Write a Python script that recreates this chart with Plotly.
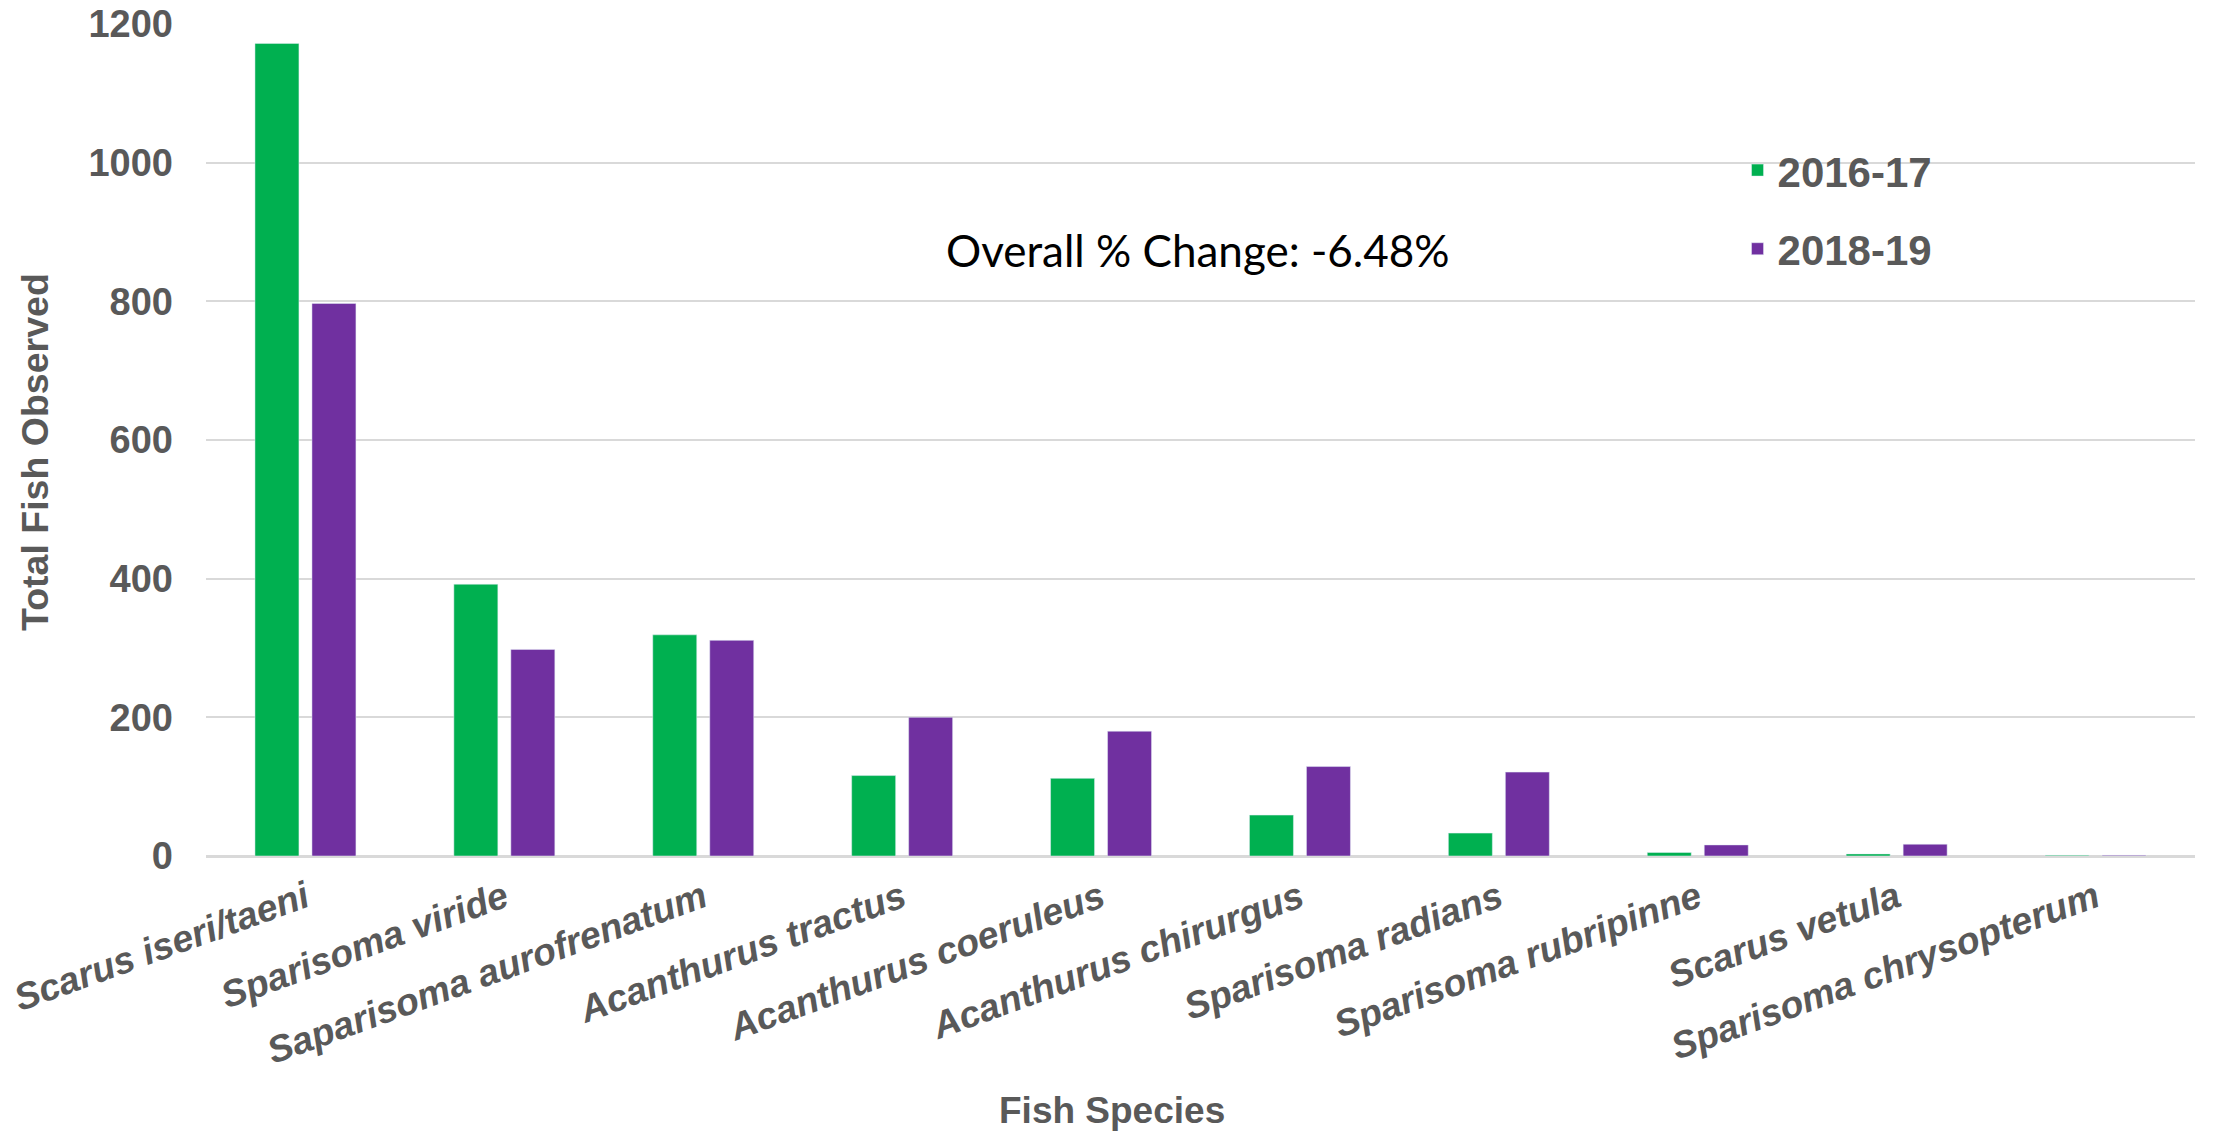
import plotly.graph_objects as go

species = ["Scarus iseri/taeni", "Sparisoma viride", "Saparisoma aurofrenatum",
           "Acanthurus tractus", "Acanthurus coeruleus", "Acanthurus chirurgus",
           "Sparisoma radians", "Sparisoma rubripinne", "Scarus vetula",
           "Sparisoma chrysopterum"]
vals_2016 = [1172, 392, 319, 116, 112, 59, 33, 5, 3, 1]
vals_2018 = [797, 298, 311, 200, 180, 129, 121, 16, 17, 1]
y_ticks = [0, 200, 400, 600, 800, 1000, 1200]

GRAY = "#595959"
fig = go.Figure()
fig.add_trace(go.Bar(x=species, y=vals_2016, name="2016-17",
                     marker_color="#00b050", legendgroup="a"))
fig.add_trace(go.Bar(x=species, y=vals_2018, name="2018-19",
                     marker_color="#7030a0", legendgroup="b"))

fig.update_layout(
    width=2213, height=1131,
    margin=dict(l=206, r=18, t=24, b=275, autoexpand=False),
    plot_bgcolor="white", paper_bgcolor="white",
    barmode="group", bargap=0.427, bargroupgap=0.228,
    font=dict(family="Liberation Sans, Arial", color=GRAY),
    legend=dict(x=0.77, y=0.865, xanchor="left", yanchor="top",
                font=dict(size=42, color=GRAY, family="Liberation Sans, Arial", weight="bold"),
                tracegroupgap=21, bgcolor="rgba(0,0,0,0)"),
    annotations=[
        dict(text="Overall % Change: -6.48%", xref="paper", yref="paper",
             x=0.4988, y=0.762, showarrow=False,
             font=dict(family="Lato", size=44, color="black")),
        dict(text="Fish Species", xref="paper", yref="paper",
             x=0.4555, y=-0.306, xanchor="center", yanchor="middle", showarrow=False,
             font=dict(family="Liberation Sans, Arial", size=37, color=GRAY, weight="bold")),
        dict(text="Total Fish Observed", xref="paper", yref="paper",
             x=-0.086, y=0.4856, xanchor="center", yanchor="middle", showarrow=False,
             textangle=-90,
             font=dict(family="Liberation Sans, Arial", size=37.5, color=GRAY, weight="bold")),
    ],
)
fig.update_yaxes(range=[0, 1200], tickvals=y_ticks, showgrid=True,
                 gridcolor="#d9d9d9", gridwidth=2, zeroline=True,
                 zerolinecolor="#d9d9d9", zerolinewidth=3, showline=False,
                 ticks="", ticklabelstandoff=32, ticklabeloverflow="allow",
                 tickfont=dict(size=38, color=GRAY, weight="bold"),
                 automargin=False)
fig.update_xaxes(tickangle=-20, showline=False, ticks="", ticklabelstandoff=12,
                 tickfont=dict(size=37.5, color=GRAY, weight="bold", style="italic"),
                 automargin=False)

fig.write_html("out.html", config={"displayModeBar": False},
               post_script="document.body.style.margin='0';document.body.style.overflow='hidden';")
